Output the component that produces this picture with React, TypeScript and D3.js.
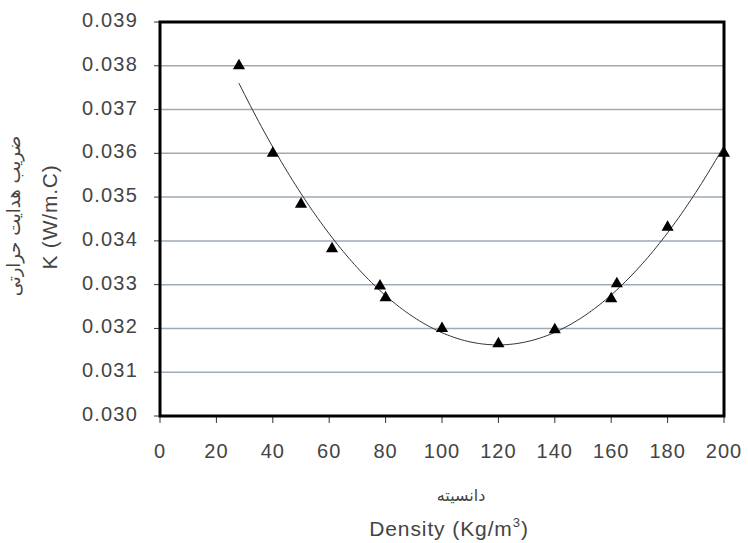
import React from "react"
import * as d3 from "d3"

// Density (Kg/m3) vs thermal conductivity K (W/m.C)
const density = [28, 40, 50, 61, 78, 80, 100, 120, 140, 160, 162, 180, 200]
const conductivity = [
	0.038, 0.036, 0.03484, 0.03382, 0.03297, 0.0327, 0.032, 0.03165, 0.03197,
	0.03268, 0.03302, 0.03431, 0.036,
]
const xTicks = [0, 20, 40, 60, 80, 100, 120, 140, 160, 180, 200]
const yTicks = [0.03, 0.031, 0.032, 0.033, 0.034, 0.035, 0.036, 0.037, 0.038, 0.039]

const width = 748
const height = 543
const margin = { top: 22, right: 24, bottom: 127, left: 160 }

// least squares polynomial fit (what the spreadsheet trendline does)
const polyFit = (xs: number[], ys: number[], order: number) => {
	const n = order + 1
	const A: number[][] = []
	for (let r = 0; r < n; r++) {
		const row: number[] = []
		for (let c = 0; c < n; c++) {
			row.push(d3.sum(xs, x => Math.pow(x, r + c)))
		}
		row.push(d3.sum(xs, (x, i) => Math.pow(x, r) * ys[i]))
		A.push(row)
	}
	// gaussian elimination
	for (let i = 0; i < n; i++) {
		let p = i
		for (let k = i + 1; k < n; k++) if (Math.abs(A[k][i]) > Math.abs(A[p][i])) p = k
		;[A[i], A[p]] = [A[p], A[i]]
		for (let k = i + 1; k < n; k++) {
			const f = A[k][i] / A[i][i]
			for (let c = i; c <= n; c++) A[k][c] -= f * A[i][c]
		}
	}
	const coef = new Array(n).fill(0)
	for (let i = n - 1; i >= 0; i--) {
		let s = A[i][n]
		for (let c = i + 1; c < n; c++) s -= A[i][c] * coef[c]
		coef[i] = s / A[i][i]
	}
	return (x: number) => coef.reduce((acc, a, i) => acc + a * Math.pow(x, i), 0)
}

const App = () => {
	const innerW = width - margin.left - margin.right
	const innerH = height - margin.top - margin.bottom

	const x = d3.scaleLinear().domain([0, 200]).range([0, innerW])
	const y = d3.scaleLinear().domain([0.03, 0.039]).range([innerH, 0])

	const fit = polyFit(density, conductivity, 2)
	const [x0, x1] = d3.extent(density) as [number, number]
	const trendX = d3.range(x0, x1 + 0.001, 1)
	const trend = d3
		.line<number>()
		.x(d => x(d))
		.y(d => y(fit(d)))(trendX)

	const triangle = d3.symbol().type(d3.symbolTriangle).size(64)()

	const textColor = "#444"
	const font = "'Liberation Sans', Arial, 'DejaVu Sans', sans-serif"

	return (
		<svg
			width={width}
			height={height}
			style={{ position: "absolute", left: 0, top: 0, background: "#fff" }}
			fontFamily={font}
		>
			<g transform={`translate(${margin.left},${margin.top})`}>
				{/* gridlines */}
				{yTicks.slice(1, -1).map(t => (
					<line
						key={"g" + t}
						x1={0}
						x2={innerW}
						y1={y(t)}
						y2={y(t)}
						stroke="#9eaab6"
						strokeWidth={1.5}
					/>
				))}

				{/* y ticks + labels */}
				{yTicks.map(t => (
					<g key={"y" + t} transform={`translate(0,${y(t)})`}>
						<line x1={-6} x2={0} stroke="#333" strokeWidth={1} />
						<text
							x={-22}
							y={5}
							textAnchor="end"
							fontSize={20}
							letterSpacing={1.2}
							fill={textColor}
						>
							{t.toFixed(3)}
						</text>
					</g>
				))}

				{/* x ticks + labels */}
				{xTicks.map(t => (
					<g key={"x" + t} transform={`translate(${x(t)},${innerH})`}>
						<line y1={0} y2={7} stroke="#333" strokeWidth={1} />
						<text
							y={42}
							textAnchor="middle"
							fontSize={20}
							letterSpacing={1}
							fill={textColor}
						>
							{t}
						</text>
					</g>
				))}

				{/* trendline */}
				<path d={trend ?? ""} fill="none" stroke="#333" strokeWidth={1} />

				{/* markers */}
				{density.map((d, i) => (
					<path
						key={"m" + i}
						d={triangle ?? ""}
						transform={`translate(${x(d)},${y(conductivity[i])})`}
						fill="#000"
					/>
				))}

				{/* plot border */}
				<rect
					x={0}
					y={0}
					width={innerW}
					height={innerH}
					fill="none"
					stroke="#000"
					strokeWidth={3}
				/>
			</g>

			{/* x axis titles */}
			<text
				x={461}
				y={501}
				textAnchor="middle"
				fontSize={16}
				fill={textColor}
				fontFamily="'DejaVu Sans', sans-serif"
			>
				دانسیته
			</text>
			<text x={449} y={536} textAnchor="middle" fontSize={21} letterSpacing={0.9} fill={textColor}>
				Density (Kg/m<tspan dy={-9} fontSize={13}>3</tspan>
				<tspan dy={9}>)</tspan>
			</text>

			{/* y axis titles */}
			<text
				transform="translate(20,216) rotate(-90)"
				textAnchor="middle"
				fontSize={18}
				letterSpacing={0.5}
				fill={textColor}
				fontFamily="'DejaVu Sans', sans-serif"
			>
				ضریب هدایت حرارتی
			</text>
			<text
				transform="translate(57,217) rotate(-90)"
				textAnchor="middle"
				fontSize={21}
				letterSpacing={0.8}
				fill={textColor}
			>
				K (W/m.C)
			</text>
		</svg>
	)
}

export default App
